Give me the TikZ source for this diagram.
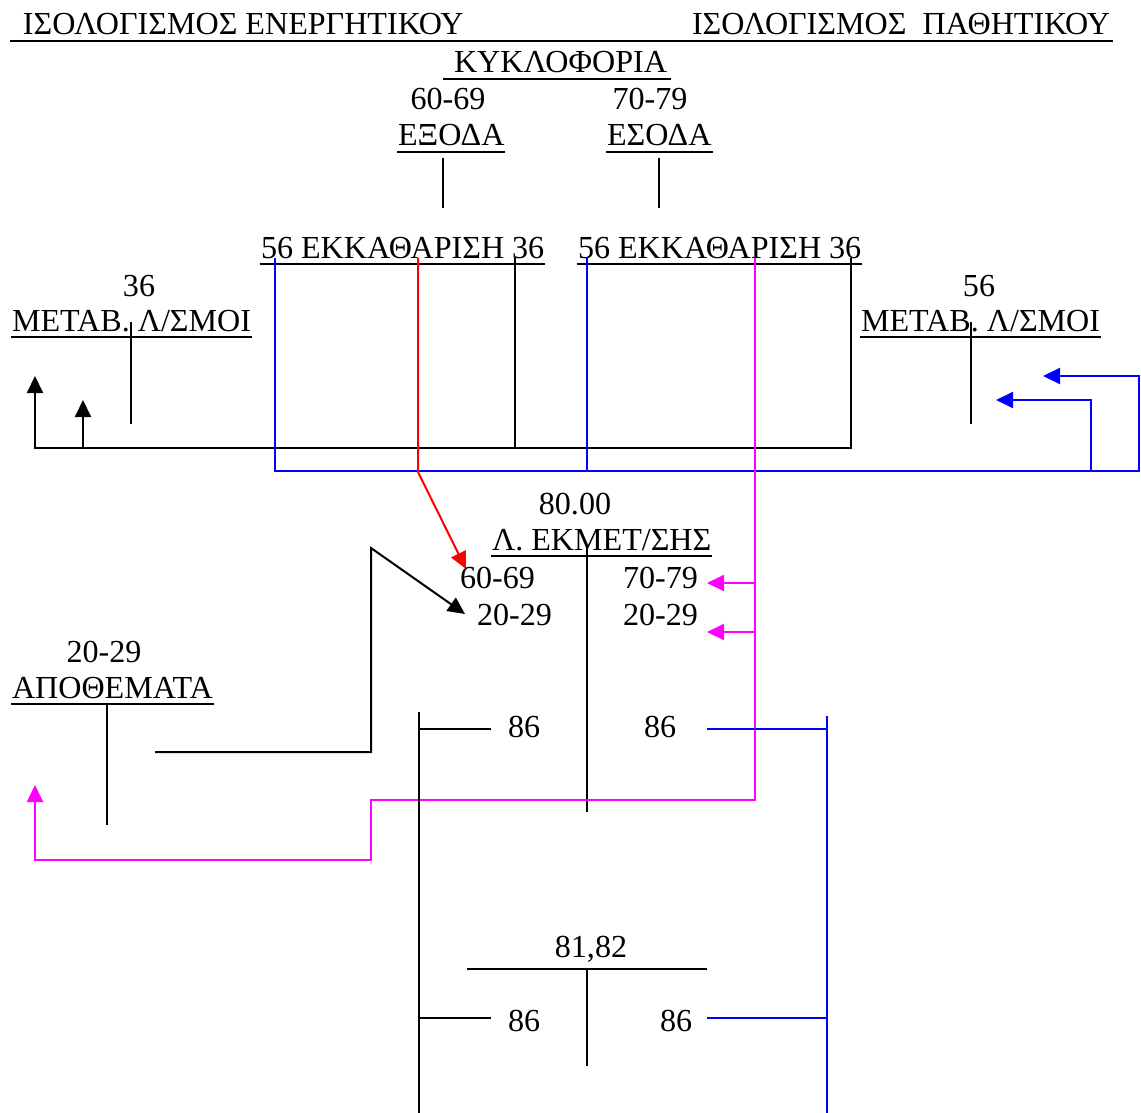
\documentclass[tikz,border=0pt]{standalone}
\usepackage{fontspec}
\setmainfont{Liberation Serif}
\usetikzlibrary{arrows.meta, calc}
\definecolor{bluec}{HTML}{0000FF}
\definecolor{redc}{HTML}{FF0000}
\definecolor{magc}{HTML}{FF00FF}
\newcommand{\ulnode}[3]{%
  \node[anchor=base west] (#1) at #2 {#3};
  \draw[uline] ($(#1.base west)+(0,6)$) -- ($(#1.base east)+(0,6)$);
}

\begin{document}
\begin{tikzpicture}[x=0.5pt, y=-0.5pt, line width=1pt,
    >={Triangle[length=8.5pt, width=8pt]},
    font=\fontsize{16.05}{19}\selectfont\frenchspacing,
    every node/.style={inner sep=0pt},
    uline/.style={line width=1.3pt}]
  \useasboundingbox (0,0) rectangle (1141,1113);
  \node[anchor=base west] (ener) at (22,35) {ΙΣΟΛΟΓΙΣΜΟΣ ΕΝΕΡΓΗΤΙΚΟΥ};
  \node[anchor=base west] (pathi) at (691,35) {ΙΣΟΛΟΓΙΣΜΟΣ\ \ ΠΑΘΗΤΙΚΟΥ};
  \draw[uline] ($(ener.base west)+(-12,6)$) -- ($(pathi.base east)+(2,6)$);
  \node[anchor=base west] (kykl) at (453,73) {ΚΥΚΛΟΦΟΡΙΑ};
  \draw[uline] ($(kykl.base west)+(-10,6)$) -- ($(kykl.base east)+(3,6)$);
  \node[anchor=base] (exn) at (448,110) {60-69};
  \node[anchor=base] (esn) at (650,110) {70-79};
  \ulnode{exoda}{(397,146)}{ΕΞΟΔΑ}
  \ulnode{esoda}{(606,146)}{ΕΣΟΔΑ}
  \ulnode{ekk1}{(260,258)}{56 ΕΚΚΑΘΑΡΙΣΗ 36}
  \ulnode{ekk2}{(577,258)}{56 ΕΚΚΑΘΑΡΙΣΗ 36}
  \node[anchor=base] (mn1) at (139,296) {36};
  \ulnode{met1}{(11,331)}{ΜΕΤΑΒ. Λ/ΣΜΟΙ}
  \node[anchor=base] (mn2) at (979,296) {56};
  \ulnode{met2}{(860,331)}{ΜΕΤΑΒ. Λ/ΣΜΟΙ}
  \node[anchor=base] (lekn) at (575,514) {80.00};
  \ulnode{lek}{(491,550)}{Λ. ΕΚΜΕΤ/ΣΗΣ}
  \node[anchor=base west] (lxa) at (459,588) {60-69};
  \node[anchor=base west] (lxb) at (476,625) {20-29};
  \node[anchor=base west] (lsa) at (622,588) {70-79};
  \node[anchor=base west] (lsb) at (622,625) {20-29};
  \node[anchor=base] (apn) at (104,662) {20-29};
  \ulnode{apo}{(11,698)}{ΑΠΟΘΕΜΑΤΑ}
  \node[anchor=base west] (ra1) at (507,737) {86};
  \node[anchor=base west] (rb1) at (643,737) {86};
  \node[anchor=base] (ypn) at (591,957) {81,82};
  \node[anchor=base west] (ra2) at (507,1031) {86};
  \node[anchor=base west] (rb2) at (659,1031) {86};

  \coordinate (kx) at (35,448);
  \coordinate (kxup) at (35,376);
  \coordinate (ky) at (83,448);
  \coordinate (kyup) at (83,400);
  \coordinate (kz) at (515,448);
  \coordinate (bx) at (1139,471);
  \coordinate (bxup) at (1139,376);
  \coordinate (bxtip) at (1043,376);
  \coordinate (by) at (1091,471);
  \coordinate (bytip) at (996,400);
  \coordinate (bz) at (587,471);
  \coordinate (rx) at (418,472);
  \coordinate (rtip) at (466,569);
  \coordinate (mx) at (371,800);
  \coordinate (my) at (35,860);
  \coordinate (mtip) at (35,785);
  \coordinate (ax) at (155,752);
  \coordinate (ay) at (371,548);
  \coordinate (atip) at (465,614);
  \coordinate (ca) at (419,712);
  \coordinate (cb) at (419,1113);
  \coordinate (da) at (827,716);
  \coordinate (db) at (827,1113);

  \foreach \x/\ya/\yb in {443/158/208, 659/158/208, 131/322/424, 971/322/424,
      107/704/825, 587/545/812, 587/969/1066}
    \draw (\x,\ya) -- (\x,\yb);
  \draw (467,969) -- (707,969);

  \draw[->] ($(ekk2.base west)+(274,0)$) |- (kx) -- (kxup);
  \draw[->] (ky) -- (kyup);
  \draw ($(ekk1.base west)+(255,0)$) -- (kz);
  \draw[bluec, ->] ($(ekk1.base west)+(15,0)$) |- (bx) -- (bxup) -- (bxtip);
  \draw[bluec] ($(ekk2.base west)+(10,0)$) -- (bz);
  \draw[bluec, ->] (by) |- (bytip);
  \draw[redc, ->] ($(ekk1.base west)+(158,0)$) -- (rx) -- (rtip);
  \draw[magc, ->] ($(ekk2.base west)+(178,0)$) |- (mx) |- (my) -- (mtip);
  \foreach \y in {583,632}
    \draw[magc, ->] (755,\y) -- (707,\y);
  \draw[->] (ax) -| (ay) -- (atip);

  \draw (ca) -- (cb);
  \draw[bluec] (da) -- (db);
  \foreach \y in {729,1018} {
    \draw (419,\y) -- (491,\y);
    \draw[bluec] (707,\y) -- (827,\y);
  }
\end{tikzpicture}
\end{document}
